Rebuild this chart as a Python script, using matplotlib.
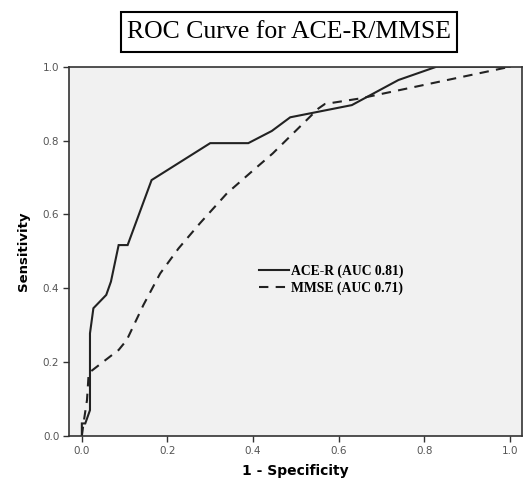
import matplotlib
matplotlib.use("Agg")
import matplotlib.pyplot as plt
from matplotlib.patches import Rectangle

# ---- data ----
acer_fpr = [0.0, 0.0, 0.008, 0.019, 0.019, 0.027, 0.057, 0.068, 0.086, 0.107,
            0.163, 0.30, 0.389, 0.444, 0.487, 0.631, 0.74, 0.829, 1.0]
acer_tpr = [0.0, 0.034, 0.034, 0.07, 0.278, 0.346, 0.382, 0.418, 0.517, 0.517,
            0.693, 0.793, 0.793, 0.826, 0.863, 0.896, 0.964, 1.0, 1.0]

mmse_fpr = [0.0, 0.004, 0.012, 0.016, 0.021, 0.05, 0.086, 0.105, 0.144, 0.183,
            0.226, 0.276, 0.339, 0.401, 0.446, 0.553, 0.568, 0.65, 0.74, 0.985, 1.0]
mmse_tpr = [0.0, 0.035, 0.097, 0.17, 0.175, 0.201, 0.233, 0.26, 0.355, 0.44,
            0.508, 0.576, 0.657, 0.72, 0.765, 0.887, 0.899, 0.914, 0.936, 0.996, 1.0]

labels = ["ACE-R (AUC 0.81)", "MMSE (AUC 0.71)"]
ticks = [0.0, 0.2, 0.4, 0.6, 0.8, 1.0]
title = "ROC Curve for ACE-R/MMSE"

fig = plt.figure(figsize=(5.24, 4.83), dpi=100)
ax = fig.add_axes([0.1317, 0.0973, 0.8639, 0.7646])
ax.set_facecolor("#f1f1f1")

ax.plot(acer_fpr, acer_tpr, color="#222222", lw=1.5, solid_joinstyle="miter",
        label=labels[0])
ax.plot(mmse_fpr, mmse_tpr, color="#222222", lw=1.5, dashes=(4.5, 3.5),
        label=labels[1])

ax.set_xlim(-0.03, 1.028)
ax.set_ylim(0, 1)
ax.set_xticks(ticks)
ax.set_yticks(ticks)
ax.set_xticklabels([f"{t:.1f}" for t in ticks])
ax.set_yticklabels([f"{t:.1f}" for t in ticks])
ax.tick_params(direction="out", length=4, width=1, color="#333333",
               labelsize=7.5, labelcolor="#555555", pad=3)
for s in ax.spines.values():
    s.set_color("#333333")
    s.set_linewidth(1.2)

ax.set_xlabel("1 - Specificity", fontsize=10, fontweight="bold",
              family="DejaVu Sans", labelpad=6)
ax.set_ylabel("Sensitivity", fontsize=9.5, fontweight="bold",
              family="DejaVu Sans", labelpad=9)

leg = ax.legend(loc="center left", bbox_to_anchor=(0.392, 0.423), frameon=False,
                handlelength=2.2, handletextpad=0.2, labelspacing=0.3,
                prop={"family": "Liberation Serif", "weight": "bold", "size": 9.8})

fig.text(0.5515, 0.933, title, ha="center", va="center",
         family="Liberation Serif", fontsize=18.5)
fig.patches.append(Rectangle((0.2309, 0.8923), 0.6412, 0.0828,
                             transform=fig.transFigure, facecolor="none",
                             edgecolor="black", linewidth=1.5))

fig.savefig("out.png", dpi=100)
